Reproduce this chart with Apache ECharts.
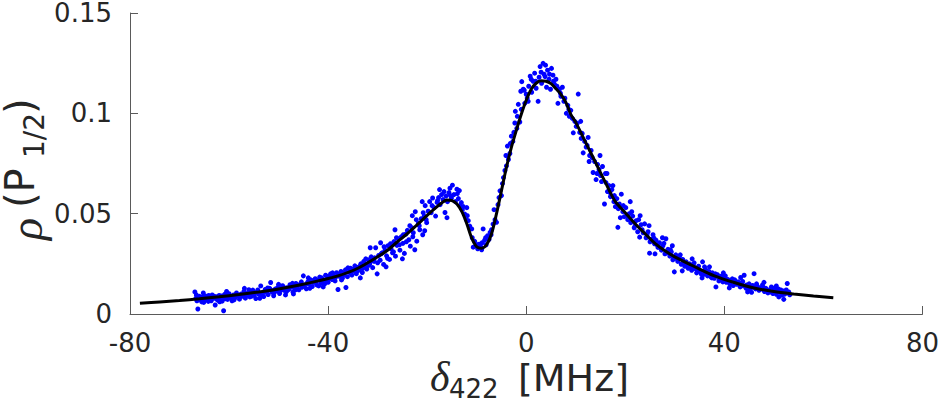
<!DOCTYPE html>
<html>
<head>
<meta charset="utf-8">
<title>rho P1/2 vs delta422</title>
<script src="https://cdn.jsdelivr.net/npm/echarts@6/dist/echarts.min.js"></script>
<style>
  html, body { margin: 0; padding: 0; background: #fff; }
  #chart { width: 942px; height: 407px; }
</style>
</head>
<body>
<div id="chart"></div>
<script>
// axis ticks
const xTicks = [-80, -40, 0, 40, 80]
const yTicks = [0, 0.05, 0.1, 0.15]

// fitted curve
const fitX = [-78, -74, -70, -66, -62, -58, -54, -50, -46, -42, -38, -34, -30, -28, -26, -24, -22, -20,
  -18, -17, -16, -15, -14, -13, -12, -11, -10, -9, -8, -7, -6, -5, -4, -3, -2, -1, 0, 1, 2, 3, 4, 5,
  6, 7, 8, 9, 10, 12, 14, 16, 18, 20, 22, 24, 26, 28, 30, 34, 38, 42, 46, 50, 54, 58, 62]
const fitY = [0.0053, 0.0060, 0.0067, 0.0076, 0.0086, 0.0097, 0.0110, 0.0125, 0.0143, 0.0165, 0.0190,
  0.0228, 0.0285, 0.0318, 0.0360, 0.0400, 0.0445, 0.0492,
  0.0535, 0.0555, 0.0568, 0.0565, 0.0548, 0.0510, 0.0450, 0.0378, 0.0335, 0.0328, 0.0345, 0.0400,
  0.0500, 0.0615, 0.0730, 0.0830, 0.0915, 0.0995, 0.1065, 0.1120, 0.1150, 0.1162, 0.1160, 0.1148,
  0.1122, 0.1095, 0.1055, 0.0995, 0.0955, 0.0855, 0.0755, 0.0655, 0.0560, 0.0505, 0.0450, 0.0400,
  0.0352, 0.0315, 0.0285, 0.0236, 0.0190, 0.0157, 0.0130, 0.0112, 0.0100, 0.0090, 0.0081]

// measured points [delta, rho]
const measured = [
  [-66.9, 0.0110], [-66.7, 0.0078], [-66.5, 0.0066], [-66.3, 0.0025], [-66.0, 0.0088], [-65.8, 0.0072],
  [-65.5, 0.0060], [-65.3, 0.0081], [-65.0, 0.0069], [-64.8, 0.0090], [-64.5, 0.0075], [-64.2, 0.0063],
  [-64.0, 0.0084], [-63.7, 0.0071], [-63.4, 0.0095], [-63.1, 0.0078], [-62.8, 0.0045], [-62.6, 0.0086],
  [-62.3, 0.0069], [-62.0, 0.0092], [-61.7, 0.0080], [-61.4, 0.0064], [-61.1, 0.0016], [-60.9, 0.0098],
  [-60.6, 0.0083], [-60.3, 0.0073], [-60.0, 0.0101], [-59.7, 0.0087], [-59.4, 0.0066], [-59.1, 0.0095],
  [-58.8, 0.0081], [-58.5, 0.0105], [-58.2, 0.0090], [-57.9, 0.0074], [-57.6, 0.0099], [-57.3, 0.0088],
  [-57.0, 0.0112], [-56.7, 0.0079], [-56.4, 0.0096], [-56.1, 0.0108], [-55.8, 0.0085], [-55.5, 0.0102],
  [-55.2, 0.0119], [-54.9, 0.0094], [-54.6, 0.0077], [-54.3, 0.0110], [-54.0, 0.0098], [-53.6, 0.0140],
  [-53.3, 0.0105], [-53.0, 0.0087], [-52.7, 0.0122], [-52.4, 0.0111], [-52.1, 0.0097], [-51.8, 0.0128],
  [-51.6, 0.0157], [-51.3, 0.0109], [-51.0, 0.0091], [-50.7, 0.0124], [-50.4, 0.0115], [-50.1, 0.0134],
  [-49.8, 0.0102], [-49.5, 0.0127], [-49.2, 0.0141], [-48.9, 0.0118], [-48.6, 0.0095], [-48.3, 0.0131],
  [-48.0, 0.0122], [-47.7, 0.0146], [-47.4, 0.0137], [-47.1, 0.0110], [-46.8, 0.0128], [-46.5, 0.0152],
  [-46.2, 0.0139], [-45.9, 0.0121], [-45.6, 0.0148], [-45.3, 0.0133], [-45.0, 0.0190], [-44.7, 0.0144],
  [-44.4, 0.0126], [-44.1, 0.0160], [-43.8, 0.0149], [-43.5, 0.0170], [-43.2, 0.0137], [-42.9, 0.0158],
  [-42.6, 0.0176], [-42.3, 0.0145], [-42.0, 0.0168], [-41.7, 0.0184], [-41.4, 0.0153], [-41.1, 0.0172],
  [-40.8, 0.0161], [-40.5, 0.0193], [-40.2, 0.0170], [-40.0, 0.0158],
  [-66.6, 0.0095], [-66.1, 0.0070], [-65.6, 0.0085], [-65.1, 0.0058], [-64.6, 0.0082], [-64.1, 0.0092],
  [-63.6, 0.0066], [-63.0, 0.0088], [-62.5, 0.0075], [-61.9, 0.0061], [-61.5, 0.0090], [-60.8, 0.0076],
  [-60.2, 0.0089], [-59.6, 0.0079], [-59.0, 0.0070], [-58.4, 0.0093], [-57.8, 0.0086], [-57.2, 0.0098],
  [-56.6, 0.0091], [-56.0, 0.0121], [-55.4, 0.0089], [-54.8, 0.0105], [-54.2, 0.0120], [-53.4, 0.0096],
  [-52.8, 0.0108], [-52.2, 0.0130], [-51.5, 0.0119], [-50.9, 0.0106], [-50.3, 0.0128], [-49.7, 0.0116],
  [-49.0, 0.0134], [-48.4, 0.0112], [-47.8, 0.0127], [-47.2, 0.0153], [-46.6, 0.0120], [-46.0, 0.0145],
  [-45.4, 0.0160], [-44.9, 0.0138], [-44.3, 0.0151], [-43.7, 0.0128], [-43.1, 0.0165], [-42.5, 0.0159],
  [-41.9, 0.0140], [-41.3, 0.0180], [-40.7, 0.0150], [-40.1, 0.0187],
  [-65.2, 0.0105], [-60.5, 0.0112], [-56.9, 0.0128], [-53.8, 0.0078], [-50.0, 0.0148], [-47.0, 0.0100],
  [-44.0, 0.0180], [-41.0, 0.0135],
  [-39.8, 0.0185], [-39.5, 0.0200], [-39.2, 0.0172], [-38.9, 0.0191], [-38.6, 0.0165], [-38.3, 0.0206],
  [-38.0, 0.0122], [-37.7, 0.0188], [-37.4, 0.0212], [-37.1, 0.0179], [-36.8, 0.0197], [-36.5, 0.0220],
  [-36.4, 0.0132], [-36.1, 0.0186], [-35.8, 0.0209], [-35.5, 0.0228], [-35.2, 0.0194], [-34.9, 0.0215],
  [-34.6, 0.0240], [-34.3, 0.0201], [-34.0, 0.0232], [-33.7, 0.0219], [-33.4, 0.0250], [-33.1, 0.0207],
  [-32.8, 0.0262], [-32.5, 0.0238], [-32.2, 0.0224], [-31.9, 0.0270], [-31.6, 0.0249], [-31.3, 0.0285],
  [-31.0, 0.0231], [-30.7, 0.0262], [-30.4, 0.0330], [-30.1, 0.0200], [-29.8, 0.0292], [-29.5, 0.0268],
  [-29.4, 0.0355], [-29.1, 0.0305], [-28.8, 0.0247], [-28.5, 0.0318], [-28.2, 0.0290], [-27.9, 0.0340],
  [-27.6, 0.0272], [-27.3, 0.0325], [-27.0, 0.0305], [-26.7, 0.0361], [-26.4, 0.0288], [-26.1, 0.0342],
  [-25.8, 0.0375], [-25.5, 0.0318], [-25.2, 0.0385], [-24.9, 0.0352], [-24.6, 0.0302], [-24.3, 0.0398],
  [-24.0, 0.0417], [-23.7, 0.0370], [-23.4, 0.0338], [-23.1, 0.0430], [-22.8, 0.0405], [-22.5, 0.0320],
  [-22.4, 0.0510], [-22.1, 0.0363], [-21.8, 0.0452], [-21.5, 0.0420], [-21.2, 0.0475], [-20.9, 0.0395],
  [-20.6, 0.0488], [-20.4, 0.0540], [-20.1, 0.0455], [-19.8, 0.0512],
  [-39.7, 0.0176], [-39.1, 0.0205], [-38.5, 0.0183], [-37.9, 0.0198], [-37.3, 0.0170], [-36.7, 0.0205],
  [-36.0, 0.0230], [-35.4, 0.0202], [-34.8, 0.0225], [-34.2, 0.0212], [-33.6, 0.0238], [-33.0, 0.0228],
  [-32.4, 0.0275], [-31.8, 0.0242], [-31.2, 0.0265], [-30.6, 0.0280], [-30.0, 0.0255], [-29.3, 0.0300],
  [-28.7, 0.0335], [-28.0, 0.0278], [-27.4, 0.0350], [-26.8, 0.0310], [-26.2, 0.0380], [-25.6, 0.0345],
  [-24.8, 0.0395], [-24.2, 0.0360], [-23.5, 0.0440], [-22.9, 0.0385], [-22.2, 0.0470], [-21.6, 0.0440],
  [-20.8, 0.0505], [-20.2, 0.0470],
  [-33.5, 0.0180], [-31.5, 0.0330], [-28.3, 0.0235], [-26.5, 0.0420], [-25.0, 0.0275], [-23.0, 0.0490],
  [-21.0, 0.0560], [-20.5, 0.0415],
  [-19.5, 0.0560], [-19.2, 0.0505], [-18.9, 0.0578], [-18.6, 0.0530], [-18.3, 0.0488], [-18.0, 0.0556],
  [-17.7, 0.0580], [-17.4, 0.0545], [-17.1, 0.0595], [-16.8, 0.0570], [-16.4, 0.0506], [-16.2, 0.0588],
  [-15.9, 0.0560], [-15.6, 0.0605], [-15.4, 0.0627], [-15.1, 0.0578], [-14.9, 0.0642], [-14.6, 0.0595],
  [-14.3, 0.0560], [-14.0, 0.0622], [-13.7, 0.0575], [-13.4, 0.0540], [-13.1, 0.0555], [-12.7, 0.0535],
  [-12.4, 0.0498], [-12.1, 0.0470], [-11.7, 0.0465], [-11.4, 0.0438], [-11.0, 0.0424], [-10.7, 0.0333],
  [-10.4, 0.0362], [-10.1, 0.0340], [-9.8, 0.0325], [-9.5, 0.0348], [-9.2, 0.0336], [-8.9, 0.0355],
  [-8.7, 0.0424], [-8.4, 0.0368], [-8.1, 0.0345], [-7.8, 0.0390], [-7.5, 0.0372], [-7.3, 0.0407],
  [-7.0, 0.0420], [-6.7, 0.0448], [-6.3, 0.0470], [-6.0, 0.0457], [-5.7, 0.0545], [-5.3, 0.0614],
  [-5.0, 0.0590], [-4.6, 0.0680], [-4.3, 0.0715], [-4.0, 0.0738], [-3.8, 0.0837], [-3.6, 0.0770],
  [-3.3, 0.0800], [-3.0, 0.0886], [-2.7, 0.0860], [-2.3, 0.0952], [-2.2, 0.1010], [-1.9, 0.0925],
  [-1.6, 0.1045], [-1.3, 0.0957], [-1.1, 0.1110], [-0.9, 0.1158], [-0.6, 0.1120], [-0.3, 0.1050],
  [-19.0, 0.0540], [-17.9, 0.0565], [-16.6, 0.0610], [-15.3, 0.0590], [-13.9, 0.0600], [-12.9, 0.0520],
  [-11.9, 0.0490], [-10.9, 0.0380], [-9.9, 0.0345], [-9.0, 0.0320], [-8.2, 0.0380], [-7.1, 0.0395],
  [-6.5, 0.0520], [-5.5, 0.0580], [-4.8, 0.0650], [-4.1, 0.0790], [-3.2, 0.0850], [-2.5, 0.0905],
  [-1.8, 0.0985], [-1.0, 0.1020], [-0.4, 0.1115],
  [-17.5, 0.0620], [-16.0, 0.0480], [-13.5, 0.0615], [-12.0, 0.0530],
  [0.0, 0.1095], [0.2, 0.1076], [0.5, 0.1135], [0.8, 0.1185], [1.1, 0.1105], [1.4, 0.1160],
  [1.7, 0.1200], [2.0, 0.1125], [2.4, 0.1060], [2.6, 0.1180], [2.8, 0.1233], [3.1, 0.1150],
  [3.4, 0.1249], [3.6, 0.1195], [3.8, 0.1183], [4.1, 0.1130], [4.3, 0.1215], [4.6, 0.1170],
  [4.9, 0.1120], [5.1, 0.1224], [5.4, 0.1190], [5.7, 0.1145], [6.0, 0.1170], [6.4, 0.1050],
  [6.7, 0.1120], [7.0, 0.1085], [7.3, 0.1130], [7.6, 0.1060], [8.1, 0.1000], [8.4, 0.1040],
  [8.7, 0.0985], [9.0, 0.1015], [9.5, 0.0903], [9.8, 0.0960], [10.1, 0.0935], [10.5, 0.1096],
  [10.8, 0.0905], [11.1, 0.0875], [11.5, 0.0803], [11.8, 0.0860], [12.1, 0.0832], [12.5, 0.0880],
  [12.8, 0.0790], [13.1, 0.0815], [13.5, 0.0705], [13.8, 0.0760], [14.1, 0.0670], [14.4, 0.0745],
  [14.7, 0.0720], [15.0, 0.0690], [15.4, 0.0735], [15.8, 0.0548], [16.1, 0.0655], [16.4, 0.0610],
  [16.7, 0.0640], [17.0, 0.0585], [17.3, 0.0620], [17.7, 0.0560], [18.0, 0.0535], [18.3, 0.0575],
  [18.5, 0.0432], [18.8, 0.0548], [19.2, 0.0597], [19.5, 0.0510], [19.8, 0.0485], [20.1, 0.0530],
  [0.4, 0.1060], [1.0, 0.1170], [1.9, 0.1160], [3.0, 0.1205], [3.9, 0.1240], [4.7, 0.1195],
  [5.5, 0.1160], [6.2, 0.1135], [6.9, 0.1100], [7.8, 0.1075], [8.6, 0.1020], [9.3, 0.0975],
  [10.3, 0.0950], [11.3, 0.0900], [12.3, 0.0840], [13.3, 0.0780], [14.3, 0.0700], [15.2, 0.0660],
  [16.0, 0.0700], [16.9, 0.0605], [17.8, 0.0590], [18.6, 0.0525], [19.6, 0.0540],
  [11.0, 0.0960], [12.7, 0.0760], [14.9, 0.0790], [16.3, 0.0700], [17.5, 0.0640], [19.0, 0.0480],
  [20.5, 0.0470], [20.8, 0.0500], [21.1, 0.0455], [21.5, 0.0488], [21.8, 0.0430], [22.2, 0.0465],
  [22.5, 0.0410], [22.9, 0.0383], [23.2, 0.0445], [23.6, 0.0405], [23.9, 0.0449], [24.2, 0.0380],
  [24.6, 0.0410], [24.9, 0.0303], [25.2, 0.0372], [25.6, 0.0395], [25.9, 0.0350], [26.2, 0.0368],
  [26.6, 0.0332], [26.9, 0.0355], [27.3, 0.0318], [27.6, 0.0340], [28.0, 0.0300], [28.2, 0.0375],
  [28.6, 0.0322], [29.0, 0.0288], [29.3, 0.0310], [29.6, 0.0270], [29.9, 0.0210], [30.2, 0.0295],
  [30.6, 0.0262], [30.9, 0.0285], [31.3, 0.0248], [31.6, 0.0272], [32.0, 0.0238], [32.3, 0.0260],
  [32.7, 0.0228], [33.0, 0.0250], [33.4, 0.0218], [33.7, 0.0242], [34.1, 0.0226], [34.4, 0.0205],
  [34.8, 0.0238], [35.1, 0.0215], [35.6, 0.0260], [35.9, 0.0198], [36.2, 0.0222], [36.6, 0.0190],
  [36.9, 0.0212], [37.3, 0.0185], [37.6, 0.0205], [38.0, 0.0178], [38.3, 0.0135], [38.6, 0.0196],
  [39.0, 0.0172], [39.3, 0.0188], [39.7, 0.0160], [40.0, 0.0180], [40.4, 0.0158], [40.7, 0.0172],
  [41.1, 0.0150], [41.4, 0.0165], [41.8, 0.0142], [42.1, 0.0170], [42.5, 0.0148], [42.8, 0.0160],
  [43.2, 0.0135], [43.5, 0.0155], [43.9, 0.0140], [44.0, 0.0193], [44.4, 0.0128], [44.7, 0.0110],
  [45.0, 0.0150], [45.4, 0.0132], [45.7, 0.0142], [46.0, 0.0201], [46.3, 0.0125], [46.7, 0.0138],
  [47.0, 0.0118], [47.4, 0.0130], [47.7, 0.0145], [48.1, 0.0112], [48.4, 0.0128], [48.8, 0.0105],
  [49.1, 0.0120], [49.5, 0.0135], [49.8, 0.0102], [50.2, 0.0118], [50.5, 0.0098], [50.9, 0.0125],
  [51.2, 0.0108], [51.6, 0.0094], [51.9, 0.0115], [52.0, 0.0073], [52.3, 0.0102], [52.7, 0.0152],
  [53.0, 0.0110], [53.2, 0.0096],
  [20.3, 0.0490], [21.3, 0.0510], [22.0, 0.0440], [22.7, 0.0470], [23.4, 0.0420], [24.4, 0.0395],
  [25.0, 0.0360], [25.8, 0.0378], [26.4, 0.0345], [27.1, 0.0330], [27.8, 0.0352], [28.4, 0.0305],
  [29.1, 0.0320], [29.8, 0.0282], [30.4, 0.0275], [31.1, 0.0295], [31.8, 0.0255], [32.5, 0.0245],
  [33.2, 0.0232], [33.9, 0.0255], [34.6, 0.0222], [35.3, 0.0200], [36.0, 0.0235], [36.8, 0.0200],
  [37.5, 0.0180], [38.2, 0.0200], [38.9, 0.0165], [39.5, 0.0178], [40.2, 0.0190], [40.9, 0.0160],
  [41.6, 0.0175], [42.3, 0.0155], [43.0, 0.0148], [43.7, 0.0162], [44.5, 0.0145], [45.2, 0.0125],
  [45.9, 0.0135], [46.5, 0.0150], [47.2, 0.0122], [47.9, 0.0132], [48.6, 0.0118], [49.3, 0.0110],
  [50.0, 0.0128], [50.7, 0.0112], [51.4, 0.0120], [52.1, 0.0098], [52.5, 0.0120], [52.9, 0.0105],
  [21.0, 0.0560], [23.0, 0.0490], [24.8, 0.0440], [26.0, 0.0300], [27.5, 0.0380], [29.5, 0.0340],
  [31.5, 0.0215], [33.5, 0.0275], [35.5, 0.0180], [37.0, 0.0235], [39.8, 0.0205], [41.0, 0.0130],
  [43.3, 0.0182], [45.5, 0.0108], [48.0, 0.0158], [50.5, 0.0140], [51.0, 0.0085]
]

const chart = echarts.init(document.getElementById('chart'), null, { renderer: 'svg' })

const labelColor = '#262626'
const axisColor = '#5a5a5a'
const sans = 'DejaVu Sans'
const serif = 'Liberation Serif'

// axis titles drawn as pieces so the subscripts sit right
const xTitle = {
  type: 'group',
  left: 430,
  top: 356,
  children: [
    { type: 'text', x: 0, y: 0, style: { text: 'δ', font: 'italic 42px ' + serif, fill: labelColor, lineHeight: 40 } },
    { type: 'text', x: 19, y: 20, style: { text: '422', font: '26px ' + sans, fill: labelColor, lineHeight: 24 } },
    { type: 'text', x: 88, y: 2, style: { text: '[MHz]', font: '38px ' + sans, fill: labelColor, lineHeight: 38 } }
  ]
}

const yTitle = {
  type: 'group',
  x: 3,
  y: 240,
  rotation: Math.PI / 2,
  children: [
    { type: 'text', x: 0, y: 5, style: { text: 'ρ', font: 'italic 46px ' + serif, fill: labelColor, lineHeight: 36 } },
    { type: 'text', x: 32, y: 2, style: { text: '(P', font: '40px ' + sans, fill: labelColor, lineHeight: 30 } },
    { type: 'text', x: 82, y: 20, style: { text: '1/2', font: '28px ' + sans, fill: labelColor, lineHeight: 22 } },
    { type: 'text', x: 126, y: 2, style: { text: ')', font: '40px ' + sans, fill: labelColor, lineHeight: 30 } }
  ]
}

const option = {
  animation: false,
  backgroundColor: '#fff',
  grid: { left: 130, right: 16, top: 12, bottom: 93 },
  xAxis: {
    type: 'value',
    min: xTicks[0],
    max: xTicks[xTicks.length - 1],
    interval: 40,
    axisLine: { show: true, onZero: false, lineStyle: { color: axisColor, width: 1 } },
    axisTick: { show: true, inside: true, length: 8, lineStyle: { color: axisColor } },
    axisLabel: { color: labelColor, fontFamily: sans, fontSize: 26, lineHeight: 26, margin: 16 },
    splitLine: { show: false }
  },
  yAxis: {
    type: 'value',
    min: yTicks[0],
    max: yTicks[yTicks.length - 1],
    interval: 0.05,
    axisLine: { show: true, onZero: false, lineStyle: { color: axisColor, width: 1 } },
    axisTick: { show: true, inside: true, length: 8, lineStyle: { color: axisColor } },
    axisLabel: { color: labelColor, fontFamily: sans, fontSize: 26, lineHeight: 22, margin: 18 },
    splitLine: { show: false }
  },
  graphic: [xTitle, yTitle],
  series: [
    {
      name: 'data',
      type: 'scatter',
      data: measured,
      symbol: 'circle',
      symbolSize: 5,
      itemStyle: { color: '#0000ff', opacity: 1 },
      z: 2
    },
    {
      name: 'fit',
      type: 'line',
      data: fitX.map((x, i) => [x, fitY[i]]),
      showSymbol: false,
      smooth: 0.3,
      lineStyle: { color: '#000', width: 3 },
      z: 3
    }
  ]
}

chart.setOption(option)
</script>
</body>
</html>
